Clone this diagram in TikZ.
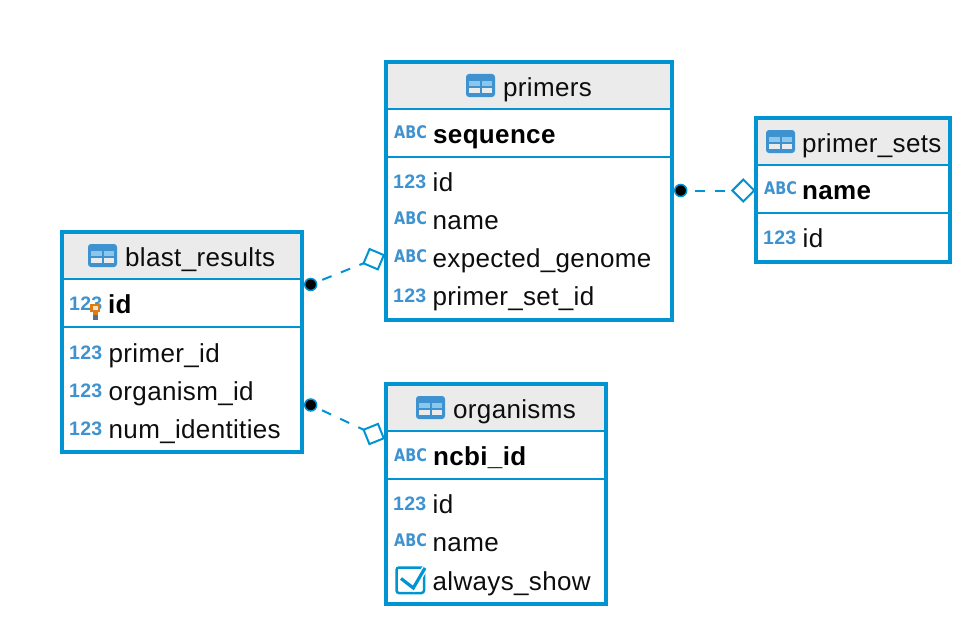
\documentclass[tikz,border=0pt]{standalone}
\usepackage{fontspec}
\setmainfont{Liberation Sans}[LetterSpace=1.3]
\newfontfamily\tagfont{DejaVu Sans}
\definecolor{frame}{HTML}{0094D3}
\definecolor{iconblue}{HTML}{3E92D0}
\definecolor{iconlight}{HTML}{8CC6EA}
\definecolor{head}{HTML}{EBEBEB}
\definecolor{keyorange}{HTML}{E07B10}
\definecolor{keypale}{HTML}{F6E3C8}
\definecolor{keysteel}{HTML}{5A6F8C}
\tikzset{
  tablebox/.style={draw=frame,line width=4pt,inner sep=0pt,outer sep=0pt,rectangle},
  divider/.style={draw=frame,line width=2pt},
  title/.style={anchor=base west,inner sep=0pt,font=\fontsize{26}{26}\selectfont,text=black!95},
  col/.style={anchor=base west,inner sep=0pt,font=\fontsize{26}{26}\selectfont,text=black!95},
  pk/.style={anchor=base west,inner sep=0pt,font=\fontsize{26}{26}\selectfont\bfseries,text=black},
  tag/.style={anchor=base west,inner sep=0pt,font=\fontsize{19.5}{19.5}\selectfont\bfseries,text=iconblue},
  abctag/.style={anchor=base west,inner sep=0pt,font=\tagfont\fontsize{17.4}{17.4}\selectfont\bfseries,text=iconblue,xscale=.83,transform shape},
  relline/.style={draw=frame,line width=2pt,dash pattern=on 10pt off 10pt},
  startdot/.style={circle,draw=frame,fill=black,line width=1.5pt,minimum size=12pt,inner sep=0pt,outer sep=0pt},
  enddiamond/.style={rectangle,draw=frame,fill=white,line width=2pt,minimum size=15.5pt,inner sep=0pt,outer sep=0pt},
}
% name, left, top, right, bottom (frame centre lines), icon left
\newcommand{\dbtable}[6]{%
  \fill[head] (#2,#3) rectangle (#4,#3+46);
  \draw[divider] (#2,#3+47) -- (#4,#3+47);
  \draw[divider] (#2,#3+95) -- (#4,#3+95);
  \node[tablebox,minimum width=#4-#2,minimum height=#5-#3] (#1) at ({(#2+#4)/2},{(#3+#5)/2}) {};
  \fill[iconblue,rounded corners=3pt] (#6,#3+12) rectangle +(29,23);
  \fill[iconlight] (#6+3,#3+18.7) rectangle +(11,5);
  \fill[iconlight] (#6+15.7,#3+18.7) rectangle +(10,5);
  \fill[head] (#6+3,#3+25.7) rectangle +(11,5.6);
  \fill[head] (#6+15.7,#3+25.7) rectangle +(10,5.6);
}
\newcommand{\numrow}[4]{% name, left x, baseline, text
  \node[tag] (#1tag) at (#2+7,#3-3) {123};
  \node[col] (#1) at (#2+46.5,#3) {#4};
}
\newcommand{\abcrow}[4]{%
  \node[abctag] (#1tag) at (#2+8,#3-4.3) {ABC};
  \node[col] (#1) at (#2+46.5,#3) {#4};
}
\begin{document}
\begin{tikzpicture}[x=1pt,y=-1pt]
\useasboundingbox (0,0) rectangle (972,626);
% blast_results
\dbtable{blast}{62}{232}{302}{452}{88}
\node[title] (blastt) at (125,266) {blast\_results};
\node[tag] (bidtag) at (69,310) {123};
\node[pk] (bid) at (108,313.5) {id};
\numrow{bprimer}{62}{362}{primer\_id}
\numrow{borg}{62}{400}{organism\_id}
\numrow{bnum}{62}{438}{num\_identities}
\fill[keyorange] (90,304) rectangle (100,312);
\fill[keypale] (93,306) rectangle (97.5,310);
\fill[keyorange] (92.5,312) rectangle (98,315);
\fill[keysteel] (92.5,315) rectangle (98,320);
% primers
\dbtable{primers}{386}{62}{672}{320}{466}
\node[title] (primerst) at (503,96) {primers};
\node[abctag] (seqtag) at (394,138) {ABC};
\node[pk] (seq) at (433,143) {sequence};
\numrow{pid}{386}{191}{id}
\abcrow{pname}{386}{229}{name}
\abcrow{pgen}{386}{267}{expected\_genome}
\numrow{pset}{386}{305}{primer\_set\_id}
% primer_sets
\dbtable{psets}{756}{118}{950}{262}{766}
\node[title] (psetst) at (802,152) {primer\_sets};
\node[abctag] (nametag) at (764,194) {ABC};
\node[pk] (sname) at (802,199) {name};
\numrow{sid}{756}{247}{id}
% organisms
\dbtable{orgs}{386}{384}{606}{604}{416}
\node[title] (orgst) at (453,418) {organisms};
\node[abctag] (ncbitag) at (394,461) {ABC};
\node[pk] (ncbi) at (433,465.5) {ncbi\_id};
\numrow{oid}{386}{513}{id}
\abcrow{oname}{386}{551}{name}
\node[col] (oshow) at (432.5,590) {always\_show};
\draw[frame,line width=2.5pt,rounded corners=2.5pt] (396.5,567.5) rectangle (424,593);
\draw[white,line width=6pt] (401,578.5) -- (413.3,588) -- (425,568);
\draw[frame,line width=3.2pt] (401,578.5) -- (413.3,588) -- (425,568);
% connectors
\node[startdot] (d1) at (310.7,284.5) {};
\node[startdot] (d2) at (310.7,405) {};
\node[startdot] (d3) at (680.7,190.5) {};
\node[enddiamond,rotate=-23] (e1) at (373.7,259.2) {};
\node[enddiamond,rotate=22] (e2) at (373.7,434) {};
\node[enddiamond,rotate=45] (e3) at (743.3,190.5) {};
\draw[relline,dash phase=13.5pt] (d1) -- (e1.south west);
\draw[relline,dash phase=13.5pt] (d2) -- (e2.north west);
\draw[relline,dash phase=12pt] (d3) -- (e3.north west);
\end{tikzpicture}
\end{document}
